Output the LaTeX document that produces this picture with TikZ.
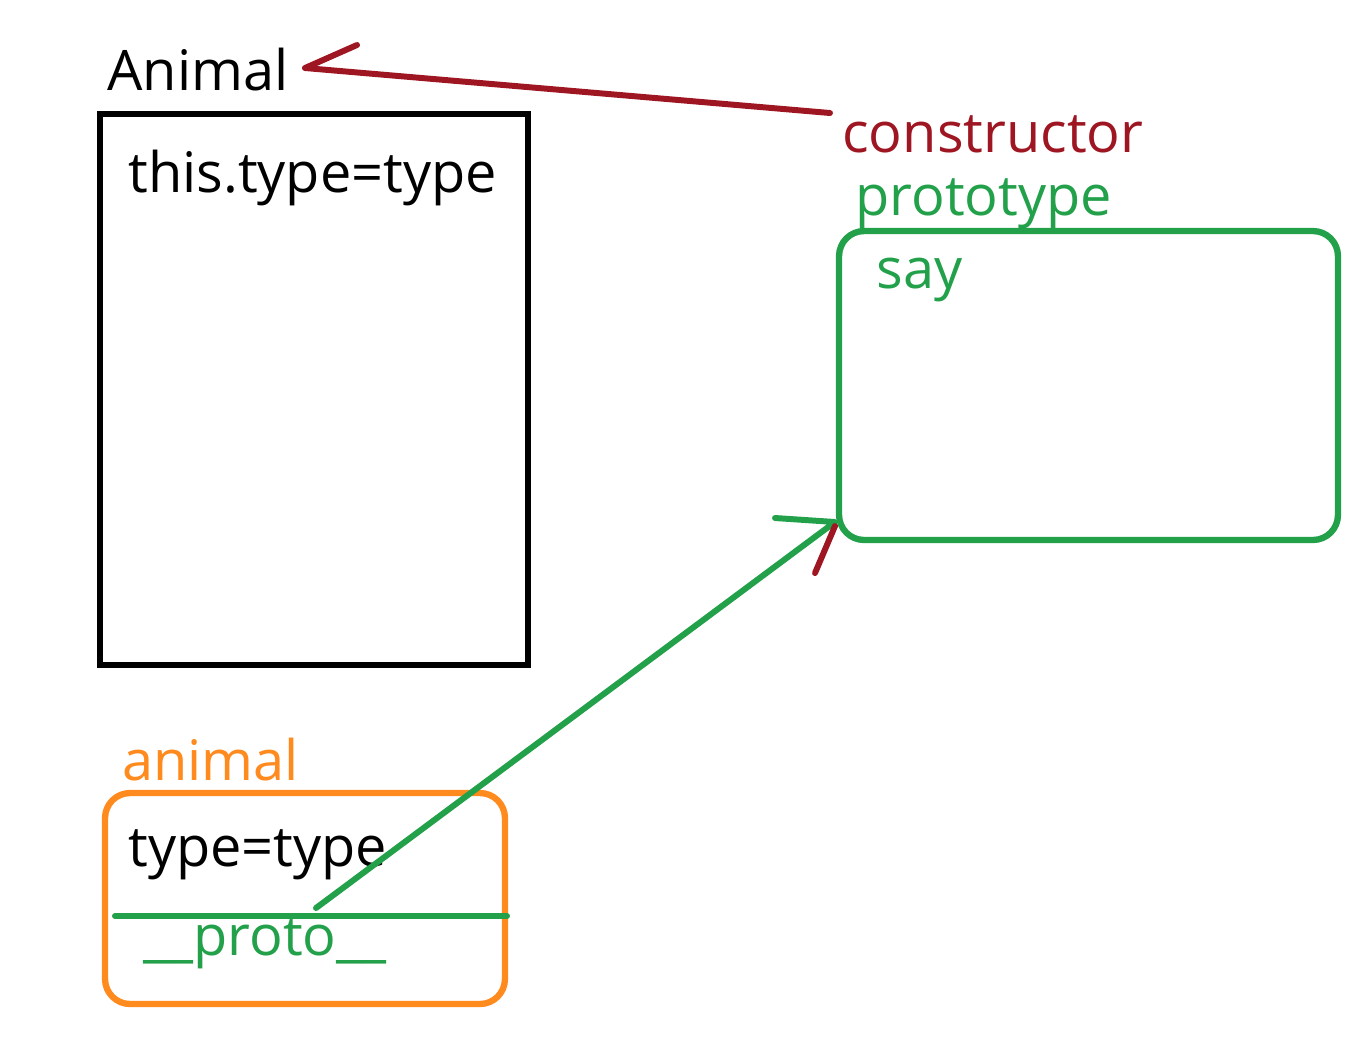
\documentclass[tikz,border=0pt]{standalone}
\usepackage{fontspec}
\setmainfont{Open Sans}
\usetikzlibrary{positioning}
\definecolor{ctorred}{RGB}{158,22,34}
\definecolor{protogreen}{RGB}{34,160,74}
\definecolor{instorange}{RGB}{255,138,30}

\begin{document}
\begin{tikzpicture}[
		x=0.02cm, y=-0.02cm,
		% GLOBAL CFG
		font=\fontsize{31.8}{38}\selectfont,
		% Styles
		txt/.style={% For every text
			inner sep=0pt,
			anchor=base west,
		},
		classbox/.style={% For the constructor body
			rectangle,
			draw,
			line width=3.8pt,
		},
		roundbox/.style={% For prototype and instance
			rectangle,
			rounded corners=5mm,
			draw,
			line width=3.6pt,
		},
		pen/.style={% Hand drawn strokes
			line width=3.4pt,
			line cap=round,
			line join=round,
		},
		]
		\useasboundingbox (0,0) rectangle (1364,1046);
		
		% Draw the boxes
		\node [classbox, minimum width=8.56cm, minimum height=11.02cm] (Animalbox) at (314,389.5) {};
		\node [roundbox, draw=protogreen, minimum width=9.98cm, minimum height=6.18cm] (protobox) at (1088.5,385.5) {};
		\node [roundbox, draw=instorange, minimum width=8cm, minimum height=4.22cm] (animalbox) at (305,898.5) {};
		
		% Draw the texts
		\node [txt] (Animal) at (107,90) {Animal};
		\node [txt] (thistype) at (128,192) {this.type=type};
		\node [txt, text=ctorred] (constructor) at (842,152) {constructor};
		\node [txt, text=protogreen] (prototype) at (855,215) {prototype};
		\node [txt, text=protogreen] (say) at (876,288) {say};
		\node [txt, text=instorange] (animal) at (122,780) {animal};
		\node [txt] (typetype) at (128,866) {type=type};
		\node [txt, text=protogreen] (proto) at (143,955) {\_\_proto\_\_};
		
		% Points for the strokes
		\coordinate (c1) at (830,113);
		\coordinate (c2) at (305,68);
		\coordinate (c3) at (357,45);
		\coordinate (p1) at (316,908);
		\coordinate (p2) at (835,522);
		\coordinate (p3) at (775,518);
		\coordinate (p4) at (815,573);
		\coordinate (d1) at (115,916);
		\coordinate (d2) at (507,916);
		
		% constructor points back
		\draw [pen, ctorred] (c1) -- (c2) -- (c3);
		
		% __proto__ points to prototype
		\draw [pen, protogreen] (d1) -- (d2);
		\draw [pen, protogreen] (p1) -- (p2) -- (p3);
		\draw [pen, ctorred] (p2) ++(0,4) -- (p4);
		
	\end{tikzpicture}
\end{document}
